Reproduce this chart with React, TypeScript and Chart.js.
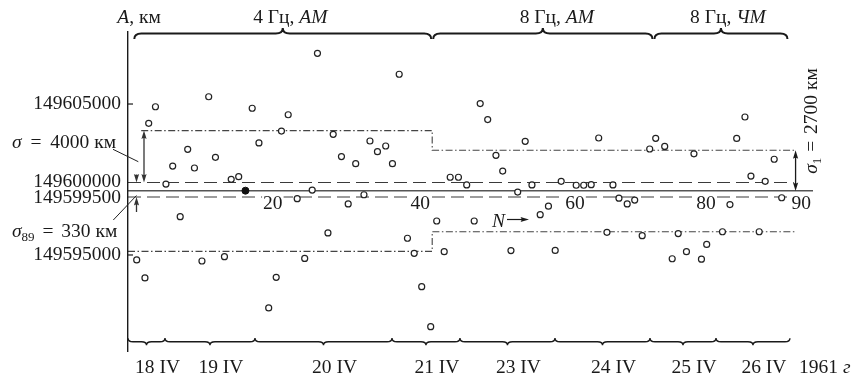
import React, { useEffect, useRef } from 'react';
import { Chart, registerables } from 'chart.js';

Chart.register(...registerables);

const FONT = '"Liberation Serif", "Times New Roman", serif';
const FONT_SIZE = 19.5;
const INK = '#1a1a1a';

// observation number N of every measurement (as placed in the figure)
const N_VALUES = [
  1.0, 2.1, 2.6, 3.5, 4.9, 5.8, 6.8, 7.8, 8.7, 9.7,
  10.6, 11.5, 12.7, 13.6, 14.6, 15.5, 16.4, 17.3, 18.6, 19.6,
  20.3, 21.2, 22.4, 23.4, 24.4, 25.1, 26.5, 27.2, 28.3, 29.2,
  30.2, 31.3, 32.1, 33.1, 34.2, 35.1, 36.0, 37.1, 38.0, 39.0,
  40.2, 41.0, 42.0, 42.8, 43.9, 45.0, 46.0, 46.8, 47.8, 48.9,
  49.8, 50.9, 51.8, 52.8, 53.7, 54.8, 55.9, 56.8, 57.6, 59.6,
  60.6, 61.6, 62.6, 63.7, 64.5, 65.3, 66.4, 67.4, 68.4, 69.4,
  70.2, 71.4, 72.4, 73.2, 74.3, 75.3, 76.3, 77.0, 79.1, 80.1,
  81.0, 82.1, 82.9, 84.0, 84.8, 86.0, 87.0,
];

// measured astronomical unit A, km
const A_VALUES = [
  149594670, 149593480, 149603720, 149604820, 149599700, 149600890, 149597540, 149602000, 149600760, 149594600,
  149605480, 149601470, 149594890, 149600010, 149600190, 149599260, 149604720, 149602420, 149591490, 149593520,
  149603210, 149604290, 149598730, 149594770, 149599300, 149608360, 149596460, 149602990, 149601520, 149598380,
  149601050, 149598990, 149602550, 149601840, 149602220, 149601050, 149606970, 149596110, 149595110, 149592900,
  149590250, 149597250, 149595220, 149600150, 149600150, 149599640, 149597250, 149605030, 149603970, 149601600,
  149600560, 149595290, 149599170, 149602530, 149599640, 149597670, 149598230, 149595300, 149599880, 149599620,
  149599620, 149599660, 149602750, 149596500, 149599640, 149598760, 149598380, 149598640, 149596280, 149602020,
  149602730, 149602190, 149594750, 149596420, 149595220, 149601700, 149594720, 149595700, 149596540, 149598340,
  149602720, 149604140, 149600230, 149596540, 149599880, 149601340, 149598790,
];
const FILLED_INDEX = 15;

const MEAN_A = 149599240;
const DASH_HI = 149599800;
const DASH_LO = 149598840;
const SIGMA_4HZ = 4000;
const SIGMA_8HZ = 2700;
const SPLIT_N = 40.4;
const DASH_END_N = 88.6;
const SIGMA1_N = 88.85;
const UPPER_DASHDOT_START_N = 1.6;

const Y_MIN = 149588640;
const Y_MAX = 149609770;
const X_MIN = -0.16;
const X_MAX = 91.04;

// where the printed y labels sit on the axis
const Y_TICK_VALUES = [149595000, 149598760, 149599870, 149605000];
const Y_TICK_LABELS = ['149595000', '149599500', '149600000', '149605000'];
const X_TICK_VALUES = [19.15, 38.8, 59.45, 76.9, 89.6];
const X_TICK_LABELS = ['20', '40', '60', '80', '90'];

type Seg = { t: string; it?: boolean; sub?: boolean; gap?: number };

const MODE_BOUNDS = [0.68, SPLIT_N, 69.9, 87.9];
const MODE_LABELS: Seg[][] = [
  [{ t: '4 Гц, ' }, { t: 'AM', it: true }],
  [{ t: '8 Гц, ' }, { t: 'AM', it: true }],
  [{ t: '8 Гц, ' }, { t: 'ЧМ', it: true }],
];
const DAY_BOUNDS = [X_MIN, 4.77, 16.77, 35.04, 44.1, 56.77, 69.44, 78.24, 88.1];
const DAY_LABELS = ['18 IV', '19 IV', '20 IV', '21 IV', '23 IV', '24 IV', '25 IV', '26 IV'];

function segFont(s: Seg, size: number) {
  return `${s.it ? 'italic ' : ''}${s.sub ? Math.round(size * 0.68) : size}px ${FONT}`;
}

function drawSegs(ctx: CanvasRenderingContext2D, segs: Seg[], x: number, y: number, align: 'left' | 'center' | 'right', size = FONT_SIZE) {
  const widths = segs.map((s) => {
    ctx.font = segFont(s, size);
    return ctx.measureText(s.t).width + (s.gap || 0);
  });
  const total = widths.reduce((a, b) => a + b, 0);
  let cx = align === 'left' ? x : align === 'center' ? x - total / 2 : x - total;
  ctx.textAlign = 'left';
  ctx.textBaseline = 'alphabetic';
  segs.forEach((s, i) => {
    ctx.font = segFont(s, size);
    ctx.fillText(s.t, cx, s.sub ? y + size * 0.2 : y);
    cx += widths[i];
  });
}

function brace(ctx: CanvasRenderingContext2D, x1: number, x2: number, y: number, dir: number, h: number, r: number) {
  const xm = (x1 + x2) / 2;
  ctx.beginPath();
  ctx.moveTo(x1, y - dir * h);
  ctx.quadraticCurveTo(x1, y, x1 + r, y);
  ctx.lineTo(xm - r, y);
  ctx.quadraticCurveTo(xm, y, xm, y + dir * h);
  ctx.quadraticCurveTo(xm, y, xm + r, y);
  ctx.lineTo(x2 - r, y);
  ctx.quadraticCurveTo(x2, y, x2, y - dir * h);
  ctx.stroke();
}

export default function App() {
  const ref = useRef<HTMLCanvasElement>(null);

  useEffect(() => {
    const canvas = ref.current;
    if (!canvas) return;

    const decor = {
      id: 'decor',
      beforeDraw(chart: any) {
        const { ctx, chartArea: ca } = chart;
        const X = (v: number) => chart.scales.x.getPixelForValue(v);
        const Y = (v: number) => chart.scales.y.getPixelForValue(v);
        ctx.save();
        ctx.fillStyle = '#fff';
        ctx.fillRect(0, 0, chart.width, chart.height);

        // dashed band
        ctx.strokeStyle = '#3a3a3a';
        ctx.lineWidth = 1.2;
        ctx.setLineDash([13, 6]);
        for (const v of [DASH_HI, DASH_LO]) {
          ctx.beginPath();
          ctx.moveTo(ca.left, Y(v));
          ctx.lineTo(X(DASH_END_N), Y(v));
          ctx.stroke();
        }

        // dash-dot sigma bands
        ctx.strokeStyle = '#444';
        ctx.lineWidth = 1.1;
        ctx.setLineDash([7, 2.5, 1.5, 2.5]);
        const xs = X(SPLIT_N);
        const xe = X(SIGMA1_N);
        ctx.beginPath();
        ctx.moveTo(X(UPPER_DASHDOT_START_N), Y(MEAN_A + SIGMA_4HZ));
        ctx.lineTo(xs, Y(MEAN_A + SIGMA_4HZ));
        ctx.lineTo(xs, Y(MEAN_A + SIGMA_8HZ));
        ctx.lineTo(xe, Y(MEAN_A + SIGMA_8HZ));
        ctx.stroke();
        ctx.beginPath();
        ctx.moveTo(ca.left, Y(MEAN_A - SIGMA_4HZ));
        ctx.lineTo(xs, Y(MEAN_A - SIGMA_4HZ));
        ctx.lineTo(xs, Y(MEAN_A - SIGMA_8HZ));
        ctx.lineTo(xe, Y(MEAN_A - SIGMA_8HZ));
        ctx.stroke();
        ctx.restore();
      },
      afterDraw(chart: any) {
        const { ctx, chartArea: ca } = chart;
        const X = (v: number) => chart.scales.x.getPixelForValue(v);
        const Y = (v: number) => chart.scales.y.getPixelForValue(v);
        const L = ca.left;
        ctx.save();
        ctx.setLineDash([]);
        ctx.lineCap = 'butt';

        const line = (x0: number, y0: number, x1: number, y1: number) => {
          ctx.beginPath();
          ctx.moveTo(x0, y0);
          ctx.lineTo(x1, y1);
          ctx.stroke();
        };
        const head = (x: number, y: number, dx: number, dy: number) => {
          const len = 8.5, half = 2.6;
          const bx = x - dx * len, by = y - dy * len;
          const px = -dy, py = dx;
          ctx.beginPath();
          ctx.moveTo(x, y);
          ctx.lineTo(bx + px * half, by + py * half);
          ctx.quadraticCurveTo(x - dx * 6.5, y - dy * 6.5, bx - px * half, by - py * half);
          ctx.closePath();
          ctx.fill();
        };
        const arrowV = (x: number, y0: number, y1: number) => {
          const d = Math.sign(y1 - y0);
          line(x, y0, x, y1 - d * 5);
          head(x, y1, 0, d);
        };
        const dblArrowV = (x: number, y0: number, y1: number) => {
          const d = Math.sign(y1 - y0);
          line(x, y0 + d * 5, x, y1 - d * 5);
          head(x, y1, 0, d);
          head(x, y0, 0, -d);
        };

        // inward ticks
        ctx.strokeStyle = INK;
        ctx.lineWidth = 1.2;
        for (const v of [Y_TICK_VALUES[0], Y_TICK_VALUES[3]]) line(L, Y(v), L + 5, Y(v));

        // sigma arrows
        ctx.strokeStyle = '#333';
        ctx.fillStyle = '#333';
        ctx.lineWidth = 1.3;
        dblArrowV(L + 16, Y(MEAN_A + SIGMA_4HZ), Y(DASH_HI));
        arrowV(L + 8.5, Y(DASH_HI) - 8, Y(DASH_HI));
        arrowV(L + 8.5, Y(DASH_LO) + 15, Y(DASH_LO));
        ctx.strokeStyle = INK;
        ctx.fillStyle = INK;
        dblArrowV(X(SIGMA1_N), Y(MEAN_A + SIGMA_8HZ), Y(MEAN_A));

        // leader lines
        ctx.lineWidth = 1;
        ctx.strokeStyle = '#222';
        line(L - 15, 149.3, L + 10.3, 161.7);
        line(L - 14.7, 220, L + 8.5, 195.5);

        // braces
        ctx.strokeStyle = INK;
        ctx.lineWidth = 2;
        for (let i = 0; i < MODE_LABELS.length; i++) {
          const a = X(MODE_BOUNDS[i]) + (i > 0 ? 1 : 0);
          const b = X(MODE_BOUNDS[i + 1]) - 1;
          brace(ctx, a, b, ca.top + 1.5, -1, 5.5, 7);
        }
        ctx.lineWidth = 1.4;
        for (let i = 0; i < DAY_LABELS.length; i++) {
          brace(ctx, X(DAY_BOUNDS[i]), X(DAY_BOUNDS[i + 1]), ca.bottom - 9.3, 1, 3.5, 5);
        }

        // texts
        ctx.fillStyle = INK;
        drawSegs(ctx, [{ t: 'A', it: true }, { t: ', км' }], L + 11, 22.5, 'center');
        for (let i = 0; i < MODE_LABELS.length; i++) {
          const mid = (X(MODE_BOUNDS[i]) + X(MODE_BOUNDS[i + 1])) / 2;
          drawSegs(ctx, MODE_LABELS[i], mid + (i === 1 ? 14 : 7), 22.5, 'center');
        }
        for (let i = 0; i < DAY_LABELS.length; i++) {
          const mid = (X(DAY_BOUNDS[i]) + X(DAY_BOUNDS[i + 1])) / 2;
          drawSegs(ctx, [{ t: DAY_LABELS[i] }], mid + 11, 372.5, 'center');
        }
        drawSegs(ctx, [{ t: '1961 ' }, { t: 'г', it: true }], 799, 372.5, 'left');

        drawSegs(ctx, [{ t: 'σ', it: true, gap: 4 }, { t: ' = ', gap: 4 }, { t: '4000 км' }], 12, 148.3, 'left');
        drawSegs(ctx, [{ t: 'σ', it: true }, { t: '89', sub: true, gap: 3 }, { t: ' = ', gap: 3 }, { t: '330 км' }], 12, 237, 'left');

        // N arrow
        drawSegs(ctx, [{ t: 'N', it: true }], 492, 227, 'left');
        ctx.lineWidth = 1.2;
        line(507, 219.5, 524, 219.5);
        head(529, 219.5, 1, 0);

        // vertical sigma_1 label
        ctx.save();
        ctx.translate(817, 121);
        ctx.rotate(-Math.PI / 2);
        drawSegs(ctx, [{ t: 'σ', it: true }, { t: '1', sub: true, gap: 1 }, { t: ' = ', gap: 2 }, { t: '2700 км' }], 0, 0, 'center');
        ctx.restore();

        ctx.restore();
      },
    };

    const openPts = N_VALUES.map((n, i) => ({ x: n, y: A_VALUES[i] })).filter((_, i) => i !== FILLED_INDEX);
    const filledPts = [{ x: N_VALUES[FILLED_INDEX], y: A_VALUES[FILLED_INDEX] }];
    const tickFont = { family: FONT, size: FONT_SIZE };

    const chart = new Chart(canvas, {
      type: 'scatter',
      data: {
        datasets: [
          {
            data: openPts,
            pointRadius: 3,
            pointBorderWidth: 1.2,
            pointBorderColor: '#222',
            pointBackgroundColor: '#fff',
          },
          {
            data: filledPts,
            pointRadius: 3.5,
            pointBorderWidth: 1,
            pointBorderColor: '#111',
            pointBackgroundColor: '#111',
          },
        ],
      },
      options: {
        responsive: false,
        animation: false,
        devicePixelRatio: 1,
        events: [],
        layout: { padding: { top: 32, right: 45, bottom: 27, left: 0 } },
        plugins: { legend: { display: false }, tooltip: { enabled: false } },
        scales: {
          x: {
            type: 'linear',
            min: X_MIN,
            max: X_MAX,
            position: { y: MEAN_A } as any,
            grid: { display: false, drawTicks: false },
            border: { display: true, color: '#555', width: 1.5 },
            afterBuildTicks: (s: any) => {
              s.ticks = X_TICK_VALUES.map((v) => ({ value: v }));
            },
            ticks: {
              autoSkip: false,
              maxRotation: 0,
              padding: 1,
              color: INK,
              font: tickFont,
              callback: (_v: any, i: number) => X_TICK_LABELS[i],
              showLabelBackdrop: true,
              backdropColor: '#fff',
              backdropPadding: { x: 1, y: 0 },
            } as any,
          },
          y: {
            type: 'linear',
            min: Y_MIN,
            max: Y_MAX,
            position: 'left',
            grid: { display: false, drawTicks: false },
            border: { display: true, color: INK, width: 1.4 },
            afterBuildTicks: (s: any) => {
              s.ticks = Y_TICK_VALUES.map((v) => ({ value: v }));
            },
            afterFit: (s: any) => {
              s.width = 128;
            },
            ticks: {
              autoSkip: false,
              padding: 7,
              color: INK,
              font: tickFont,
              callback: (_v: any, i: number) => Y_TICK_LABELS[i],
            },
          },
        },
      },
      plugins: [decor],
    } as any);

    return () => chart.destroy();
  }, []);

  return (
    <div style={{ position: 'fixed', left: 0, top: 0, width: 857, height: 378, background: '#fff' }}>
      <canvas ref={ref} width={857} height={378} style={{ display: 'block', width: 857, height: 378 }} />
    </div>
  );
}
